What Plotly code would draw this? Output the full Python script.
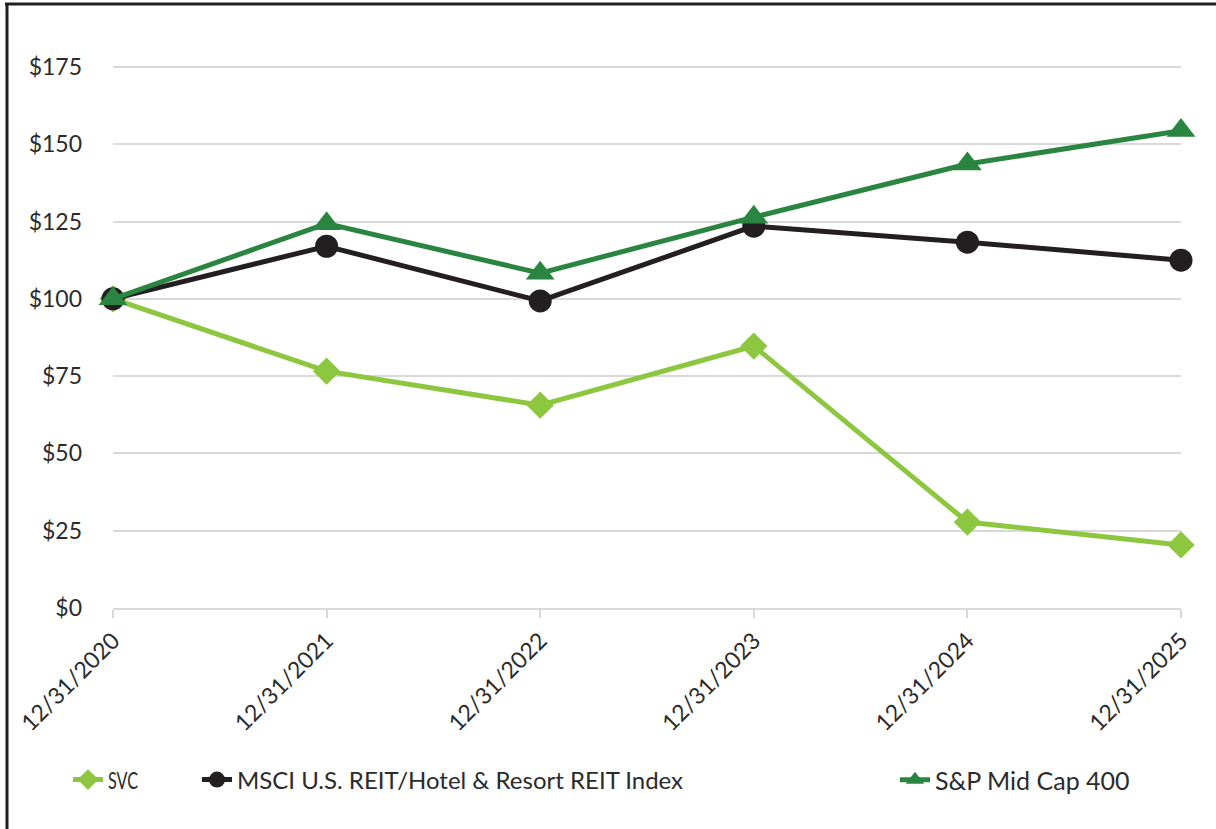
import plotly.graph_objects as go

years = ["12/31/2020", "12/31/2021", "12/31/2022", "12/31/2023", "12/31/2024", "12/31/2025"]
svc = [100, 76.6, 65.6, 84.7, 27.8, 20.4]
msci = [100, 117.0, 99.3, 123.5, 118.3, 112.5]
sp400 = [100, 124.3, 108.3, 126.4, 143.6, 154.4]
y_ticks = [0, 25, 50, 75, 100, 125, 150, 175]
y_labels = ["$" + str(v) for v in y_ticks]

W, H = 1216, 829
L, R, T, B = 113, 35, 36, 221
pw, ph = W - L - R, H - T - B
FONT = "Lato, 'Open Sans', sans-serif"
TXT = "#2b2b2b"

fig = go.Figure()
fig.add_trace(go.Scatter(x=years, y=svc, name="SVC", mode="lines+markers",
                         line=dict(color="#8dc63f", width=5),
                         marker=dict(symbol="diamond", size=21, color="#8dc63f"),
                         legend="legend", cliponaxis=False))
fig.add_trace(go.Scatter(x=years, y=msci, name="MSCI U.S. REIT/Hotel & Resort REIT Index",
                         mode="lines+markers",
                         line=dict(color="#231f20", width=5),
                         marker=dict(symbol="circle", size=23, color="#231f20"),
                         legend="legend2", cliponaxis=False))
fig.add_trace(go.Scatter(x=years, y=sp400, name="S&P Mid Cap 400", mode="lines+markers",
                         line=dict(color="#2a8540", width=5),
                         marker=dict(symbol="triangle-up", size=25, color="#2a8540"),
                         legend="legend3", cliponaxis=False))

def px_x(p):
    return (p - L) / pw

def px_y(p):
    return (H - B - p) / ph

leg_common = dict(orientation="h", xanchor="left", yanchor="middle",
                  bgcolor="rgba(0,0,0,0)", itemwidth=30, tracegroupgap=0)

fig.update_layout(
    width=W, height=H,
    margin=dict(l=L, r=R, t=T, b=B, autoexpand=False),
    paper_bgcolor="white", plot_bgcolor="white",
    showlegend=True,
    legend=dict(x=px_x(68), y=px_y(780), font=dict(family=FONT, size=24, color=TXT), **leg_common),
    legend2=dict(x=px_x(197), y=px_y(780), font=dict(family=FONT, size=24, color=TXT), **leg_common),
    legend3=dict(x=px_x(895), y=px_y(780), font=dict(family=FONT, size=25, color=TXT), **leg_common),
    xaxis=dict(type="category", range=[0, 5], showgrid=False,
               showline=True, linecolor="#d9d9d9", linewidth=2,
               ticks="outside", ticklen=8, tickcolor="#d9d9d9", tickwidth=2,
               tickangle=-45, tickfont=dict(family=FONT, size=23, color=TXT)),
    yaxis=dict(range=[0, 185], tickvals=y_ticks, ticktext=y_labels,
               showgrid=True, gridcolor="#d9d9d9", gridwidth=2,
               zeroline=False, showline=False, ticks="",
               ticklabelstandoff=30,
               tickfont=dict(family=FONT, size=23, color=TXT)),
    shapes=[
        dict(type="line", xref="paper", yref="paper",
             x0=px_x(7), x1=px_x(7), y0=px_y(3), y1=px_y(835),
             line=dict(color="#231f20", width=3)),
        dict(type="line", xref="paper", yref="paper",
             x0=px_x(5), x1=px_x(1225), y0=px_y(4), y1=px_y(4),
             line=dict(color="#231f20", width=3)),
    ],
)

post = """
document.body.style.margin='0';
var gd = document.getElementById('{plot_id}');
function squeezeLegend(){
  document.querySelectorAll('text.legendtext').forEach(function(t){
    var s = (t.textContent || '').replace(/\\s+/g, ' ').trim();
    var w = null;
    if (s === 'SVC') { w = 30; }
    else if (s.indexOf('Resort') >= 0) { w = 296; }
    if (w) {
      while (t.firstChild) { t.removeChild(t.firstChild); }
      t.appendChild(document.createTextNode(s));
      t.setAttribute('textLength', String(w));
      t.setAttribute('lengthAdjust', 'spacingAndGlyphs');
    }
  });
}
squeezeLegend();
var n = 0;
(function loop(){ squeezeLegend(); n++; if (n < 120) { requestAnimationFrame(loop); } })();
gd.on('plotly_afterplot', squeezeLegend);
"""

fig.write_html("out.html", post_script=post, config={"displayModeBar": False})
